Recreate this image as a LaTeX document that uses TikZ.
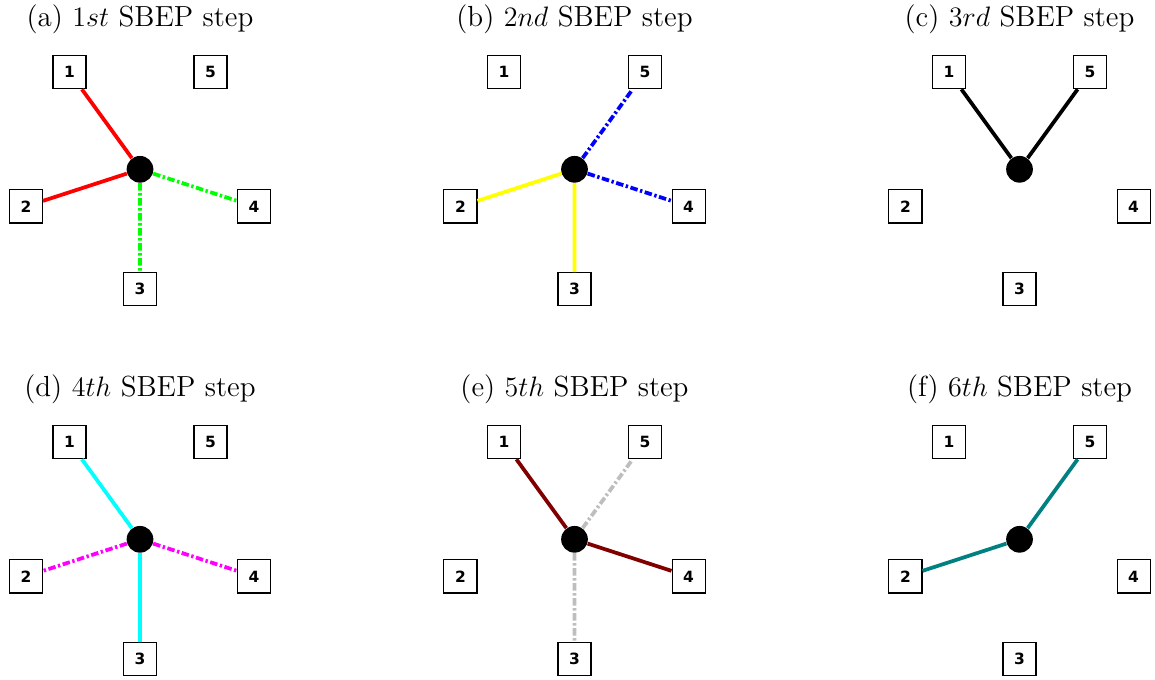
\documentclass[tikz,border=0pt]{standalone}
\usepackage{fontspec}
\usepackage{xcolor}
\newfontfamily\boxfont{DejaVu Sans}
\definecolor{maroon}{RGB}{128,0,0}
\definecolor{silverline}{RGB}{190,190,190}
\definecolor{pcyan}{RGB}{0,255,255}
\definecolor{pmagenta}{RGB}{255,0,255}
\definecolor{pgreen}{RGB}{0,255,0}
\definecolor{pyellow}{RGB}{255,255,0}
\definecolor{pteal}{RGB}{0,128,128}

\begin{document}
\begin{tikzpicture}[
    x=0.015cm, y=-0.015cm,
    agent/.style  = {rectangle, draw=black, line width=0.5pt, fill=white,
                     minimum width=14.1pt, minimum height=14.1pt, inner sep=0pt,
                     font=\boxfont\bfseries\fontsize{6.6}{7}\selectfont},
    hub/.style    = {circle, fill=black, inner sep=0pt, minimum size=11.4pt},
    caption/.style= {anchor=base, font=\fontsize{12.4}{15}\selectfont},
    link/.style   = {line width=1.6pt},
    linkdd/.style = {link, dash pattern=on 3.2pt off 1.1pt on 1pt off 1.1pt}
]
\useasboundingbox (0,0) rectangle (1155,679);

% ---------------- six panels: hub, five agents, caption ----------------
\foreach \p/\cx/\cy/\ttl in {
    a/140/169.3/{(a) $1st$ SBEP step},
    b/574.5/169.3/{(b) $2nd$ SBEP step},
    c/1019.5/169.3/{(c) $3rd$ SBEP step},
    d/140/539.3/{(d) $4th$ SBEP step},
    e/574.5/539.3/{(e) $5th$ SBEP step},
    f/1019.5/539.3/{(f) $6th$ SBEP step}} {
  \node[caption]  (\p t) at (\cx,\cy-142.6) {\ttl};
  \node[hub]      (\p c) at (\cx,\cy) {};
  \node[agent]    (\p 1) at (\cx-70.5,\cy-97.1) {1};
  \node[agent]    (\p 2) at (\cx-114.1,\cy+37.1) {2};
  \node[agent]    (\p 3) at (\cx,\cy+120) {3};
  \node[agent]    (\p 4) at (\cx+114.1,\cy+37.1) {4};
  \node[agent]    (\p 5) at (\cx+70.5,\cy-97.1) {5};
}

% ---------------- (a) ----------------
\draw[link, red]      (ac) -- (a1)  (ac) -- (a2);
\draw[linkdd, pgreen] (ac) -- (a3)  (ac) -- (a4);

% ---------------- (b) ----------------
\draw[link, pyellow]  (bc) -- (b2)  (bc) -- (b3);
\draw[linkdd, blue]   (bc) -- (b4)  (bc) -- (b5);

% ---------------- (c) ----------------
\draw[link, black]    (cc) -- (c1)  (cc) -- (c5);

% ---------------- (d) ----------------
\draw[link, pcyan]      (dc) -- (d1)  (dc) -- (d3);
\draw[linkdd, pmagenta] (dc) -- (d2)  (dc) -- (d4);

% ---------------- (e) ----------------
\draw[link, maroon]       (ec) -- (e1)  (ec) -- (e4);
\draw[linkdd, silverline] (ec) -- (e3)  (ec) -- (e5);

% ---------------- (f) ----------------
\draw[link, pteal]    (fc) -- (f2)  (fc) -- (f5);

\end{tikzpicture}
\end{document}
